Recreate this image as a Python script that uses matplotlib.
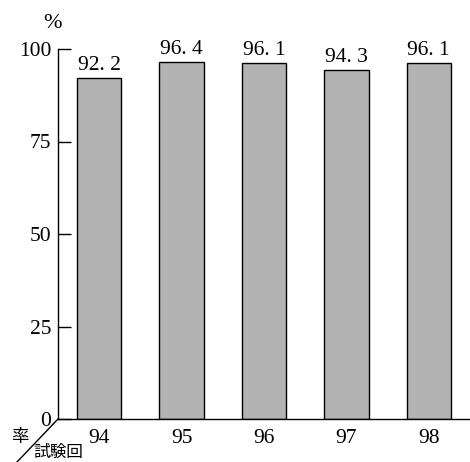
import matplotlib.pyplot as plt
import matplotlib

plt.rcParams['font.family'] = ['Liberation Serif', 'Noto Sans CJK JP']
plt.rcParams['font.size'] = 15

rounds = [94, 95, 96, 97, 98]
rates = [92.2, 96.4, 96.1, 94.3, 96.1]
rate_labels = ['92. 2', '96. 4', '96. 1', '94. 3', '96. 1']
yticks = [0, 25, 50, 75, 100]

fig = plt.figure(figsize=(4.7, 4.62), dpi=100)
ax = fig.add_axes([58 / 470, 1 - 419 / 462, 412 / 470, 370 / 462])

ax.bar(rounds, rates, width=0.54, color='#b3b3b3', edgecolor='black', linewidth=1)
for x, v, s in zip(rounds, rates, rate_labels):
    ax.text(x, v + 0.8, s, ha='center', va='bottom', fontsize=15.5)

ax.set_xlim(93.5, 98.5)
ax.set_ylim(0, 100)
ax.set_xticks(rounds)
ax.set_yticks(yticks)
ax.tick_params(axis='y', direction='in', length=9, width=1, pad=5, labelsize=15.5)
ax.tick_params(axis='x', length=0, pad=7, labelsize=15.5)
ax.spines['top'].set_visible(False)
ax.spines['right'].set_visible(False)
for s in ['left', 'bottom']:
    ax.spines[s].set_linewidth(1)

# corner labels
fig.text(53 / 470, 1 - 24 / 462, '%', ha='center', va='center', fontsize=16)
fig.text(20 / 470, 1 - 437 / 462, '率', ha='center', va='center', fontsize=12.5,
         family='Noto Sans CJK JP')
fig.text(33 / 470, 1 - 452 / 462, '試験回', ha='left', va='center', fontsize=12,
         family='Noto Sans CJK JP')
fig.add_artist(matplotlib.lines.Line2D([58 / 470, 17 / 470], [1 - 419 / 462, 1 - 462 / 462],
                                       color='black', linewidth=1))

fig.savefig('out.png', dpi=100)
